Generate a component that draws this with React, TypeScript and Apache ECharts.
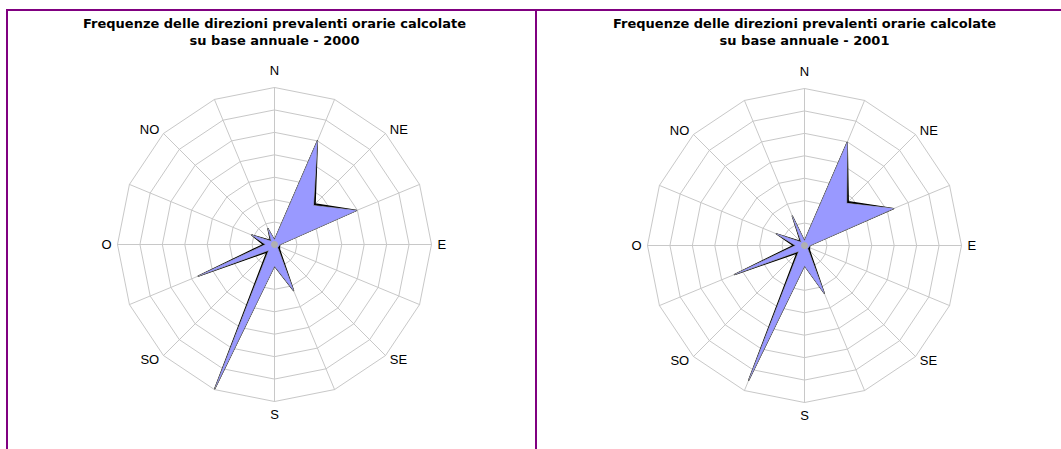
import React, { useEffect, useRef } from "react";
import * as echarts from "echarts";

// Compass order (clockwise from north)
const directions = ["N", "NNE", "NE", "ENE", "E", "ESE", "SE", "SSE", "S", "SSW", "SW", "WSW", "W", "WNW", "NW", "NNW"];
const axisLabels = ["N", "", "NE", "", "E", "", "SE", "", "S", "", "SO", "", "O", "", "NO", ""];

// Frequencies (%) – filled area
const freq2000 = [1, 25, 12.3, 19.8, 1.2, 1, 1, 11.1, 4.8, 34.8, 1.8, 18.4, 2, 5.5, 1, 3.8];
const freq2001 = [1, 24.9, 13.3, 21.5, 1.2, 1, 1, 11.5, 4.5, 32.5, 1.8, 16.9, 2, 6.8, 1, 7.1];
// Outline series (black)
const edge2000 = [1, 25, 12.8, 19.8, 1.2, 1.2, 1.6, 11.1, 4.8, 34.8, 2.4, 18.4, 2.5, 5.5, 1.3, 3.8];
const edge2001 = [1, 24.9, 13.8, 21.5, 1.2, 1.2, 1.6, 11.5, 4.5, 32.5, 2.4, 16.9, 2.5, 6.8, 1.3, 7.1];

const titles = [
  "Frequenze delle direzioni prevalenti orarie calcolate\nsu base annuale - 2000",
  "Frequenze delle direzioni prevalenti orarie calcolate\nsu base annuale - 2001",
];

const maxValue = 35;
const rings = 7;

// ECharts lays radar indicators counterclockwise; reorder to keep compass clockwise
const ccwOrder = directions.map((_, i) => (directions.length - i) % directions.length);
const reorder = (arr: any[]) => ccwOrder.map((i) => arr[i]);

const centers: [number, number][] = [
  [274.5, 244.5],
  [804.5, 245.5],
];
const radius = 157;

export default function App() {
  const ref = useRef<HTMLDivElement>(null);
  useEffect(() => {
    if (!ref.current) return;
    const chart = echarts.init(ref.current, undefined, { renderer: "svg" });
    const font = "'Liberation Sans', Arial, sans-serif";
    const radarBase = (c: [number, number]) => ({
      center: c,
      radius,
      startAngle: 90,
      shape: "polygon",
      splitNumber: rings,
      nameGap: 6,
      indicator: reorder(axisLabels).map((n) => ({ name: n, max: maxValue, min: 0 })),
      axisName: {
        color: "#000",
        fontSize: 13,
        fontFamily: font,
        formatter: (name: string) => (name === "N" ? "{n|N}" : name),
        rich: { n: { color: "#000", fontSize: 13, fontFamily: font, padding: [0, 0, 5, 0] } },
      },
      splitLine: { lineStyle: { color: "#c8c8c8", width: 1 } },
      splitArea: { show: false },
      axisLine: { lineStyle: { color: "#c8c8c8", width: 1 } },
      axisTick: { show: false },
      axisLabel: { show: false },
    });
    const mkSeries = (idx: number, edge: number[], freq: number[]) => [
      {
        type: "radar",
        radarIndex: idx,
        symbol: "none",
        silent: true,
        z: 2,
        data: [
          {
            value: reorder(edge),
            lineStyle: { color: "#000", width: 1.3 },
            areaStyle: { color: "#000", opacity: 1 },
          },
        ],
      },
      {
        type: "radar",
        radarIndex: idx,
        symbol: "none",
        silent: true,
        z: 3,
        data: [
          {
            value: reorder(freq),
            lineStyle: { color: "#888", width: 1 },
            areaStyle: { color: "#9999ff", opacity: 1 },
          },
        ],
      },
    ];
    chart.setOption({
      animation: false,
      backgroundColor: "#fff",
      title: titles.map((t, i) => ({
        text: t,
        left: centers[i][0],
        top: 15,
        textAlign: "center",
        padding: 0,
        textStyle: {
          fontSize: 13,
          fontWeight: "bold",
          fontFamily: "'DejaVu Sans', sans-serif",
          color: "#000",
          lineHeight: 17,
        },
      })),
      radar: centers.map((c) => radarBase(c)),
      series: [...mkSeries(0, edge2000, freq2000), ...mkSeries(1, edge2001, freq2001)],
      graphic: [
        { type: "line", shape: { x1: 6, y1: 10, x2: 1061, y2: 10 }, style: { stroke: "#800080", lineWidth: 2 } },
        { type: "line", shape: { x1: 7, y1: 9, x2: 7, y2: 449 }, style: { stroke: "#800080", lineWidth: 2 } },
        { type: "line", shape: { x1: 536, y1: 9, x2: 536, y2: 449 }, style: { stroke: "#800080", lineWidth: 2 } },
        ...centers.map((c) => ({
          type: "circle",
          z: 10,
          shape: { cx: c[0], cy: c[1], r: 3.5 },
          style: { fill: "#b0b0b0" },
        })),
      ],
    });
    return () => chart.dispose();
  }, []);
  return (
    <div
      ref={ref}
      style={{ position: "fixed", left: 0, top: 0, width: 1061, height: 449, background: "#fff" }}
    />
  );
}
